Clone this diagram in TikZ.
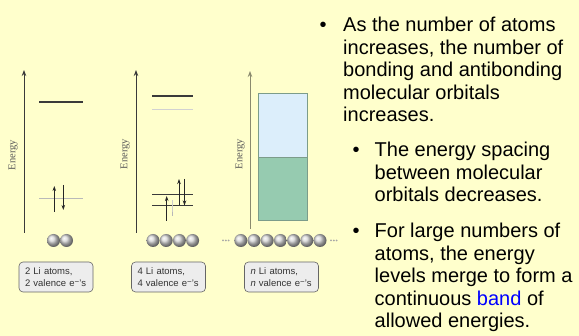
\documentclass[tikz,border=0pt]{standalone}
\usepackage{fontspec}
\setmainfont{Liberation Sans}
\newfontfamily\serifE{Liberation Serif}
\usetikzlibrary{arrows.meta}
\definecolor{bg}{HTML}{FFFFCC}
\definecolor{axisgray}{HTML}{3A3A3A}
\definecolor{axisolive}{HTML}{8A8A6E}
\definecolor{bandblue}{HTML}{DCEEFB}
\definecolor{bandgreen}{HTML}{96CBB0}
\definecolor{bandedge}{HTML}{7C9C8A}
\definecolor{boxfill}{HTML}{EDEDED}
\definecolor{bandword}{HTML}{0000FF}
\newcommand{\eminus}{e\raisebox{0.35ex}{\fontsize{8}{8}\selectfont −}’s}
\tikzset{
  axis/.style={draw=axisgray, line width=1pt, -{Stealth[length=6pt,width=4.5pt]}},
  level/.style={draw=axisgray, line width=1.2pt},
  faint/.style={draw=gray!55, line width=0.6pt},
  spin/.style={draw=black!85, line width=0.8pt, -{Stealth[length=5pt,width=3.5pt]}},
  atom/.style={circle, minimum size=13pt, inner sep=0pt, shading=ball, ball color=gray!32},
  dot/.style={circle, fill=gray!70, inner sep=0pt, minimum size=2pt},
  lbl/.style={draw=black!60, fill=boxfill, rounded corners=4pt, minimum height=30pt,
    text width=62pt, inner xsep=6pt, align=left, line width=0.6pt, text=black!80,
    font=\fontsize{9.5}{11.5}\selectfont},
  energylbl/.style={rotate=90, font=\serifE\fontsize{10.5}{11}\selectfont, text=black!65},
  bodytext/.style={anchor=base west, font=\fontsize{20}{22}\selectfont, inner sep=0pt},
  bul/.style={anchor=base, font=\fontsize{20}{20}\selectfont, inner sep=0pt}
}
\begin{document}
\begin{tikzpicture}[x=1pt,y=-1pt]
\fill[bg] (0,0) rectangle (579,336);
\useasboundingbox (0,0) rectangle (579,336);

% ---------- panel 1 ----------
\coordinate (a1b) at (24,233); \coordinate (a1t) at (24,70);
\draw[axis] (a1b) -- (a1t);
\node[energylbl] (e1) at (13,155) {Energy};
\coordinate (l1a) at (39,102); \coordinate (l1b) at (83,102);
\draw[level] (l1a) -- (l1b);
\coordinate (l2a) at (39,198); \coordinate (l2b) at (83,198);
\draw[faint] (l2a) -- (l2b);
\coordinate (u1s) at (54.3,212); \coordinate (u1e) at (54.3,186);
\draw[spin] (u1s) -- (u1e);
\coordinate (d1s) at (63.3,185); \coordinate (d1e) at (63.3,210);
\draw[spin] (d1s) -- (d1e);
\node[atom] (p1a) at (53.5,240.5) {};
\node[atom] (p1b) at (66.5,240.5) {};
\node[lbl] (box1) at (56,277) {2 Li atoms,\\2 valence \eminus};

% ---------- panel 2 ----------
\coordinate (a2b) at (136,233); \coordinate (a2t) at (136,70);
\draw[axis] (a2b) -- (a2t);
\node[energylbl] (e2) at (125,154) {Energy};
\coordinate (m1a) at (152,96); \coordinate (m1b) at (193,96);
\draw[level] (m1a) -- (m1b);
\coordinate (m2a) at (152,109.3); \coordinate (m2b) at (193,109.3);
\draw[faint, draw=gray!35] (m2a) -- (m2b);
\coordinate (m3a) at (152,194.3); \coordinate (m3b) at (193,194.3);
\draw[level] (m3a) -- (m3b);
\coordinate (m4a) at (152,205.5); \coordinate (m4b) at (193,205.5);
\draw[level] (m4a) -- (m4b);
\coordinate (u2s) at (166.7,221); \coordinate (u2e) at (166.7,196);
\draw[spin] (u2s) -- (u2e);
\coordinate (d2s) at (172.7,200); \coordinate (d2e) at (172.7,216);
\draw[faint, draw=gray!40] (d2s) -- (d2e);
\coordinate (d2h) at (172.7,212);
\draw[spin, draw=none, fill=black!85] (d2h) -- (d2e);
\coordinate (u3s) at (179,205.5); \coordinate (u3e) at (179,179);
\draw[spin] (u3s) -- (u3e);
\coordinate (d3s) at (184.5,179); \coordinate (d3e) at (184.5,205.5);
\draw[spin] (d3s) -- (d3e);
\foreach \i/\x in {a/153,b/166.2,c/179.4,d/192.6}
  \node[atom] (p2\i) at (\x,240.5) {};
\node[lbl] (box2) at (168.5,277) {4 Li atoms,\\4 valence \eminus};

% ---------- panel 3 ----------
\coordinate (a3b) at (250,229); \coordinate (a3t) at (250,71);
\draw[axis, draw=axisolive] (a3b) -- (a3t);
\node[energylbl] (e3) at (240,154) {Energy};
\fill[bandblue] (258.3,93.3) rectangle (307.3,157.7);
\fill[bandgreen] (258.3,157.7) rectangle (307.3,220.7);
\draw[bandedge, line width=0.9pt] (258.3,93.3) rectangle (307.3,220.7);
\coordinate (bda) at (258.3,157.7); \coordinate (bdb) at (307.3,157.7);
\draw[bandedge, line width=1.3pt] (bda) -- (bdb);
\foreach \i/\x in {1/223,2/225.8,3/228.6,4/331,5/333.8,6/336.6}
  \node[dot] (dd\i) at (\x,240.5) {};
\foreach \i in {0,...,6}
  \node[atom] (p3\i) at ({240.8+13.2*\i},240.5) {};
\node[lbl] (box3) at (281.5,277) {\textit{n} Li atoms,\\\textit{n} valence \eminus};

% ---------- text ----------
\node[bul] (b1) at (323,32) {•};
\node[bodytext] (t1) at (343,32) {As the number of atoms};
\node[bodytext] (t2) at (343,54.5) {increases, the number of};
\node[bodytext] (t3) at (343,77) {bonding and antibonding};
\node[bodytext] (t4) at (343,99.5) {molecular orbitals};
\node[bodytext] (t5) at (343,122) {increases.};
\node[bul] (b2) at (356,157) {•};
\node[bodytext] (s1) at (374.5,157) {The energy spacing};
\node[bodytext] (s2) at (374.5,179.5) {between molecular};
\node[bodytext] (s3) at (374.5,202) {orbitals decreases.};
\node[bul] (b3) at (356,238) {•};
\node[bodytext] (r1) at (374.5,238) {For large numbers of};
\node[bodytext] (r2) at (374.5,260.5) {atoms, the energy};
\node[bodytext] (r3) at (374.5,283) {levels merge to form a};
\node[bodytext] (r4) at (374.5,305.5) {continuous \textcolor{bandword}{band} of};
\node[bodytext] (r5) at (374.5,328) {allowed energies.};
\end{tikzpicture}
\end{document}
